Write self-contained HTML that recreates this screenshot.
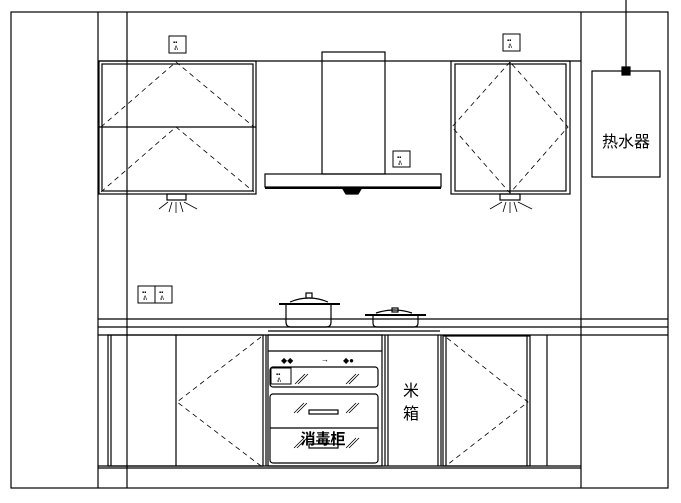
<!DOCTYPE html>
<html><head><meta charset="utf-8"><style>html,body{margin:0;padding:0;background:#fff}svg{display:block}</style></head><body>
<svg width="681" height="503" viewBox="0 0 681 503" xmlns="http://www.w3.org/2000/svg" fill="none" stroke="#000" stroke-width="1.2">
<!-- frame -->
<rect x="11" y="12" width="657" height="476"/>
<line x1="98" y1="12" x2="98" y2="488"/>
<line x1="127" y1="12" x2="127" y2="488"/>
<line x1="581" y1="12" x2="581" y2="488"/>
<line x1="98" y1="61" x2="581" y2="61"/>
<!-- left upper cabinet -->
<rect x="99" y="61" width="157" height="133"/>
<rect x="102" y="64" width="151" height="127"/>
<line x1="99" y1="127" x2="256" y2="127"/>
<g stroke-dasharray="5,4" stroke-width="0.8">
<polyline points="101,127 176,62 254,127"/>
<polyline points="101,192 176,127 254,192"/>
</g>
<rect x="167" y="194" width="19" height="6"/>
<g stroke-width="0.8"><line x1="176" y1="202" x2="176" y2="213"/><line x1="172" y1="202" x2="169" y2="212"/><line x1="168" y1="202" x2="159" y2="209"/><line x1="180" y1="202" x2="183" y2="212"/><line x1="184" y1="202" x2="197" y2="209"/></g>
<!-- sockets -->
<g stroke-width="1">
<rect x="169" y="36" width="17" height="17"/><rect x="393" y="151" width="17" height="16"/><rect x="503" y="34" width="17" height="17"/>
<rect x="138" y="286" width="17" height="17"/><rect x="155" y="286" width="17" height="17"/>
<rect x="271" y="368" width="20" height="16"/>
</g>
<g fill="#000" stroke="none" font-size="6" font-family="Liberation Sans, sans-serif">
<text x="173" y="44">▪▪</text><text x="174" y="50">ᕕ</text>
<text x="397" y="159">▪▪</text><text x="398" y="165">ᕕ</text>
<text x="507" y="42">▪▪</text><text x="508" y="48">ᕕ</text>
<text x="142" y="294">▪▪</text><text x="143" y="300">ᕕ</text>
<text x="159" y="294">▪▪</text><text x="160" y="300">ᕕ</text>
<text x="276" y="376">▪▪</text><text x="277" y="382">ᕕ</text>
</g>
<!-- hood -->
<rect x="322" y="52" width="63" height="122"/>
<rect x="265" y="174" width="176" height="13"/>
<line x1="265" y1="188" x2="441" y2="188" stroke-width="2"/>
<path d="M343 189 h18 l-3 5 h-12 z" fill="#000"/>
<!-- right upper cabinet -->
<rect x="451" y="61" width="119" height="133"/>
<rect x="455" y="64" width="111" height="127"/>
<line x1="510" y1="62" x2="510" y2="192"/>
<polygon points="510,62 452,127 510,193 568,127" stroke-dasharray="5,4" stroke-width="0.8"/>
<rect x="500" y="194" width="20" height="6"/>
<g stroke-width="0.8"><line x1="510" y1="202" x2="510" y2="213"/><line x1="506" y1="202" x2="503" y2="212"/><line x1="502" y1="202" x2="490" y2="209"/><line x1="514" y1="202" x2="517" y2="212"/><line x1="518" y1="202" x2="532" y2="209"/></g>
<!-- water heater -->
<line x1="626" y1="0" x2="626" y2="71"/>
<rect x="592" y="71" width="68" height="106"/>
<rect x="622" y="67" width="8" height="8" fill="#000"/>
<text x="626" y="147" font-size="16" fill="#000" stroke="none" text-anchor="middle" font-family="Liberation Sans, Noto Sans CJK SC, sans-serif">热水器</text>
<!-- countertop -->
<line x1="98" y1="319" x2="668" y2="319"/>
<line x1="98" y1="327" x2="668" y2="327"/>
<line x1="98" y1="335" x2="668" y2="335"/>
<line x1="98" y1="466" x2="581" y2="466"/>
<line x1="98" y1="468" x2="581" y2="468"/>
<!-- pots -->
<path d="M286 304 h45 v18 q0 5 -5 5 h-35 q-5 0 -5 -5 z"/>
<line x1="279" y1="304" x2="340" y2="304" stroke-width="2"/>
<path d="M290 302 q19 -8 38 0"/><rect x="306" y="293" width="6" height="5"/>
<path d="M373 315 h45 v8 q0 4 -4 4 h-37 q-4 0 -4 -4 z"/>
<line x1="365" y1="315" x2="426" y2="315" stroke-width="2"/>
<path d="M376 313 q18 -6 36 0"/><rect x="392" y="308" width="6" height="4"/>
<line x1="268" y1="331" x2="440" y2="331"/>
<!-- left lower cabinet -->
<rect x="108" y="335" width="155" height="131"/>
<line x1="111" y1="335" x2="111" y2="466"/>
<line x1="176" y1="335" x2="176" y2="466"/>
<line x1="266" y1="335" x2="266" y2="466"/>
<polyline points="261,337 177,402 261,466" stroke-dasharray="5,4" stroke-width="0.8"/>
<!-- disinfection cabinet -->
<rect x="268" y="335" width="114" height="131"/>
<line x1="268" y1="351" x2="382" y2="351"/>
<g fill="#000" stroke="none" font-size="8" font-family="Liberation Sans, sans-serif"><text x="281" y="363">◆◆</text><text x="321" y="362">→</text><text x="343" y="363">◆●</text></g>
<rect x="270" y="367" width="108" height="20" rx="3"/>
<rect x="270" y="394" width="108" height="69" rx="3"/>
<line x1="270" y1="428" x2="378" y2="428"/>
<rect x="309" y="410" width="29" height="4"/>
<rect x="309" y="444" width="29" height="4"/>
<g stroke-width="0.8"><path d="M295 384 l10-10 M298 384 l10-10 M346 384 l10-10 M349 384 l10-10 M294 413 l10-10 M297 413 l10-10 M346 413 l10-10 M349 413 l10-10 M294 448 l10-10 M297 448 l10-10 M346 448 l10-10 M349 448 l10-10"/></g>
<text x="323" y="444" font-size="15" font-weight="bold" fill="#000" stroke="none" text-anchor="middle" font-family="Liberation Sans, Noto Sans CJK SC, sans-serif">消毒柜</text>
<!-- rice box -->
<line x1="385" y1="335" x2="385" y2="466"/>
<line x1="388" y1="335" x2="388" y2="466"/>
<line x1="438" y1="335" x2="438" y2="466"/>
<line x1="441" y1="335" x2="441" y2="466"/>
<text x="411" y="396" font-size="16" fill="#000" stroke="none" text-anchor="middle" font-family="Liberation Sans, Noto Sans CJK SC, sans-serif">米</text>
<text x="411" y="419" font-size="16" fill="#000" stroke="none" text-anchor="middle" font-family="Liberation Sans, Noto Sans CJK SC, sans-serif">箱</text>
<!-- right lower cabinet -->
<rect x="443" y="336" width="87" height="130"/>
<line x1="446" y1="336" x2="446" y2="466"/>
<line x1="527" y1="336" x2="527" y2="466"/>
<polyline points="447,338 528,402 447,465" stroke-dasharray="5,4" stroke-width="0.8"/>
<line x1="547" y1="335" x2="547" y2="466"/>
</svg>
</body></html>
